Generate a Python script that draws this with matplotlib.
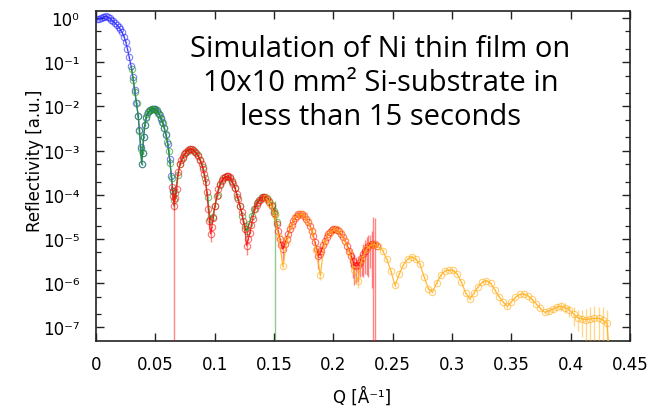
import numpy as np
import matplotlib
matplotlib.use('Agg')
import matplotlib.pyplot as plt
from matplotlib.ticker import LogLocator, FuncFormatter, NullFormatter

plt.rcParams['font.family'] = ['DejaVu Sans']

# ---------------- data ----------------
blue_q = [0.0010, 0.0025, 0.0040, 0.0055, 0.0070, 0.0085, 0.0100, 0.0115, 0.0130, 0.0145,
          0.0160, 0.0175, 0.0190, 0.0205, 0.0220, 0.0235, 0.0250, 0.0265, 0.0280, 0.0295,
          0.0310, 0.0325, 0.0340, 0.0355, 0.0366, 0.0376, 0.0385, 0.0393, 0.0401, 0.0412,
          0.0425, 0.0440, 0.0455, 0.0470, 0.0485, 0.0500, 0.0515, 0.0530, 0.0545, 0.0560,
          0.0575, 0.0590, 0.0605, 0.0620, 0.0635, 0.0648]
blue_r = [0.93, 0.95, 0.99, 1.04, 1.08, 1.09, 1.05, 0.98, 0.91, 0.84,
          0.77, 0.70, 0.62, 0.55, 0.47, 0.38, 0.29, 0.20, 0.13, 0.083,
          0.047, 0.024, 0.012, 6.2e-3, 2.9e-3, 1.2e-3, 5.0e-4, 9.0e-4, 2.0e-3, 3.8e-3,
          5.8e-3, 7.3e-3, 8.2e-3, 8.7e-3, 8.9e-3, 8.7e-3, 8.0e-3, 6.8e-3, 5.5e-3, 4.4e-3,
          3.3e-3, 2.3e-3, 1.4e-3, 6.5e-4, 2.6e-4, 1.2e-4]

green_q = [0.0300, 0.0314, 0.0328, 0.0342, 0.0356, 0.0366, 0.0376, 0.0385, 0.0393, 0.0401,
           0.0410, 0.0420, 0.0432, 0.0445, 0.0458, 0.0471, 0.0484, 0.0497, 0.0510, 0.0523,
           0.0536, 0.0549, 0.0562, 0.0575, 0.0588, 0.0601, 0.0613, 0.0625, 0.0637, 0.0647,
           0.0656, 0.0668, 0.0689, 0.0710, 0.0731, 0.0752, 0.0773, 0.0794, 0.0815, 0.0836,
           0.0857, 0.0878, 0.0899, 0.0920, 0.0941, 0.0962, 0.0983, 0.1003, 0.1024, 0.1045,
           0.1066, 0.1087, 0.1108, 0.1129, 0.1150, 0.1171, 0.1192, 0.1213, 0.1234, 0.1255,
           0.1269, 0.1290, 0.1311, 0.1332, 0.1353, 0.1374, 0.1395, 0.1416, 0.1437, 0.1458,
           0.1479, 0.1500, 0.1508, 0.1522]
green_r = [0.071, 0.040, 0.021, 0.012, 6.0e-3, 2.8e-3, 1.1e-3, 5.0e-4, 8.9e-4, 2.0e-3,
           3.8e-3, 5.6e-3, 6.9e-3, 7.8e-3, 8.3e-3, 8.7e-3, 8.9e-3, 8.7e-3, 8.1e-3, 7.2e-3,
           6.3e-3, 5.2e-3, 4.3e-3, 3.2e-3, 2.4e-3, 1.6e-3, 1.0e-3, 5.2e-4, 2.4e-4, 1.2e-4,
           7.6e-5, 1.1e-4, 2.8e-4, 5.0e-4, 6.9e-4, 8.7e-4, 1.0e-3, 1.07e-3, 1.05e-3, 9.3e-4,
           7.9e-4, 6.0e-4, 4.2e-4, 2.4e-4, 9.0e-5, 2.8e-5, 3.2e-5, 5.6e-5, 1.0e-4, 1.7e-4,
           2.2e-4, 2.5e-4, 2.6e-4, 2.4e-4, 1.9e-4, 1.45e-4, 8.8e-5, 5.6e-5, 3.3e-5, 2.0e-5,
           1.5e-5, 2.2e-5, 3.3e-5, 4.9e-5, 6.4e-5, 7.8e-5, 8.7e-5, 9.1e-5, 8.6e-5, 7.4e-5,
           5.8e-5, 4.2e-5, 3.6e-5, 2.4e-5]

red_q = [0.0640, 0.0648, 0.0657, 0.0668, 0.0680, 0.0693, 0.0708, 0.0720, 0.0730, 0.0745,
         0.0758, 0.0775, 0.0792, 0.0809, 0.0826, 0.0844, 0.0862, 0.0876, 0.0890, 0.0901,
         0.0912, 0.0923, 0.0933, 0.0946, 0.0956, 0.0966, 0.0976, 0.0988, 0.1003, 0.1017,
         0.1031, 0.1045, 0.1059, 0.1073, 0.1087, 0.1101, 0.1115, 0.1129, 0.1143, 0.1157,
         0.1171, 0.1185, 0.1199, 0.1213, 0.1227, 0.1241, 0.1255, 0.1269, 0.1283, 0.1297,
         0.1310, 0.1320, 0.1339, 0.1353, 0.1367, 0.1381, 0.1396, 0.1410, 0.1424, 0.1443,
         0.1460, 0.1480, 0.1500, 0.1522, 0.1536, 0.1550, 0.1562, 0.1573, 0.1590, 0.1606,
         0.1620, 0.1634, 0.1648, 0.1662, 0.1676, 0.1690, 0.1704, 0.1718, 0.1735, 0.1752,
         0.1770, 0.1788, 0.1803, 0.1817, 0.1831, 0.1845, 0.1859, 0.1873, 0.1887, 0.1900,
         0.1915, 0.1929, 0.1944, 0.1958, 0.1972, 0.1985, 0.2000, 0.2014, 0.2031, 0.2048,
         0.2066, 0.2085, 0.2100, 0.2118, 0.2134, 0.2150, 0.2164, 0.2178, 0.2195, 0.2210,
         0.2224, 0.2238, 0.2252, 0.2266, 0.2280, 0.2294, 0.2310, 0.2323, 0.2336, 0.2350,
         0.2365]
red_r = [1.5e-4, 9.5e-5, 5.6e-5, 8.5e-5, 1.35e-4, 3.2e-4, 5.0e-4, 6.2e-4, 7.1e-4, 8.3e-4,
         9.5e-4, 1.05e-3, 1.1e-3, 1.08e-3, 1.0e-3, 8.9e-4, 7.6e-4, 6.2e-4, 5.0e-4, 3.9e-4,
         2.95e-4, 2.0e-4, 1.15e-4, 4.8e-5, 2.6e-5, 1.3e-5, 1.9e-5, 3.0e-5, 5.6e-5, 9.5e-5,
         1.35e-4, 1.74e-4, 2.1e-4, 2.35e-4, 2.5e-4, 2.6e-4, 2.6e-4, 2.5e-4, 2.1e-4, 1.75e-4,
         1.45e-4, 1.05e-4, 7.9e-5, 5.6e-5, 4.0e-5, 2.5e-5, 1.7e-5, 7.1e-6, 1.0e-5, 1.4e-5,
         2.1e-5, 2.8e-5, 4.8e-5, 6.0e-5, 6.9e-5, 7.8e-5, 8.6e-5, 9.1e-5, 9.0e-5, 7.9e-5,
         6.9e-5, 5.6e-5, 3.8e-5, 2.2e-5, 1.5e-5, 1.0e-5, 7.5e-6, 5.9e-6, 7.9e-6, 1.0e-5,
         1.32e-5, 1.7e-5, 2.1e-5, 2.6e-5, 3.0e-5, 3.4e-5, 3.6e-5, 3.7e-5, 3.6e-5, 3.4e-5,
         2.9e-5, 2.4e-5, 2.0e-5, 1.55e-5, 1.17e-5, 8.5e-6, 6.0e-6, 4.2e-6, 4.5e-6, 5.5e-6,
         7.2e-6, 9.1e-6, 1.1e-5, 1.29e-5, 1.45e-5, 1.58e-5, 1.66e-5, 1.7e-5, 1.62e-5, 1.48e-5,
         1.29e-5, 1.1e-5, 8.9e-6, 7.1e-6, 5.5e-6, 4.2e-6, 3.2e-6, 2.6e-6, 2.5e-6, 2.6e-6,
         3.0e-6, 3.7e-6, 4.6e-6, 5.5e-6, 6.3e-6, 6.9e-6, 7.4e-6, 7.8e-6, 7.8e-6, 7.6e-6,
         7.1e-6]

orange_q = [0.1435, 0.1470, 0.1505, 0.1540, 0.1575, 0.1610, 0.1645, 0.1680, 0.1715,
            0.1750, 0.1785, 0.1820, 0.1855, 0.1890, 0.1925, 0.1960, 0.1995, 0.2030, 0.2065,
            0.2100, 0.2135, 0.2170, 0.2205, 0.2240, 0.2275, 0.2310, 0.2345, 0.2380, 0.2415,
            0.2450, 0.2485, 0.2520, 0.2555, 0.2590, 0.2625, 0.2660, 0.2695, 0.2730, 0.2765,
            0.2800, 0.2835, 0.2870, 0.2905, 0.2940, 0.2975, 0.3010, 0.3045, 0.3080, 0.3115,
            0.3150, 0.3185, 0.3220, 0.3255, 0.3290, 0.3325, 0.3360, 0.3395, 0.3430, 0.3465,
            0.3500, 0.3535, 0.3570, 0.3605, 0.3640, 0.3675, 0.3710, 0.3745, 0.3780, 0.3815,
            0.3850, 0.3885, 0.3920, 0.3955, 0.3990, 0.4025, 0.4060, 0.4095, 0.4130, 0.4165,
            0.4200, 0.4235, 0.4270, 0.4305, 0.4340]
orange_r = [8.3e-5, 6.3e-5, 3.5e-5, 1.1e-5, 2.4e-6, 9.5e-6, 2.0e-5, 3.2e-5, 3.7e-5,
            3.5e-5, 2.5e-5, 1.5e-5, 5.6e-6, 1.5e-6, 8.3e-6, 1.3e-5, 1.6e-5, 1.66e-5, 1.35e-5,
            8.9e-6, 5.0e-6, 2.0e-6, 1.12e-6, 3.5e-6, 5.8e-6, 7.2e-6, 7.6e-6, 6.8e-6, 5.5e-6,
            3.5e-6, 1.9e-6, 8.9e-7, 1.6e-6, 2.6e-6, 3.5e-6, 4.0e-6, 3.5e-6, 2.7e-6, 1.4e-6,
            7.6e-7, 6.3e-7, 1.0e-6, 1.5e-6, 1.9e-6, 2.0e-6, 1.95e-6, 1.6e-6, 1.05e-6, 6.0e-7,
            4.4e-7, 6.0e-7, 8.3e-7, 1.05e-6, 1.15e-6, 1.0e-6, 7.1e-7, 5.0e-7, 3.8e-7, 3.0e-7,
            3.8e-7, 4.8e-7, 5.6e-7, 5.75e-7, 5.2e-7, 4.3e-7, 3.4e-7, 2.7e-7, 2.2e-7, 2.35e-7,
            2.6e-7, 2.9e-7, 3.0e-7, 2.8e-7, 2.5e-7, 2.0e-7, 1.66e-7, 1.55e-7, 1.5e-7, 1.55e-7,
            1.6e-7, 1.62e-7, 1.48e-7, 1.26e-7, 1.0e-8]

# relative errors: a default per series plus the points with larger bars
default_rel_err = 0.06
blue_big_q, blue_big_rel = [], []
green_big_q = [0.0656, 0.0962, 0.1269, 0.1479, 0.1500, 0.1508]
green_big_rel = [0.4, 0.25, 0.3, 0.25, 0.35, 1.0]
red_big_q = [0.0657, 0.0956, 0.0966, 0.1269, 0.1573, 0.1873, 0.2118, 0.2150, 0.2164,
             0.2178, 0.2195, 0.2210, 0.2224, 0.2238, 0.2252, 0.2266, 0.2280, 0.2294,
             0.2310, 0.2323, 0.2336, 0.2350]
red_big_rel = [1.0, 0.2, 0.35, 0.4, 0.45, 0.5, 0.3, 0.45, 0.6,
               0.65, 0.6, 0.6, 0.55, 0.6, 0.7, 0.7, 0.75, 0.8,
               0.7, 0.9, 3.0, 3.0]
orange_big_q = [0.1890, 0.2205, 0.3780, 0.3815, 0.3850, 0.3885, 0.3920, 0.3955, 0.3990,
                0.4025, 0.4060, 0.4095, 0.4130, 0.4165, 0.4200, 0.4235, 0.4270, 0.4305]
orange_big_rel = [0.2, 0.3, 0.08, 0.1, 0.12, 0.15, 0.2, 0.25, 0.3,
                  0.45, 0.5, 0.6, 0.7, 0.85, 0.95, 0.8, 1.0, 1.0]

x_ticks = [0, 0.05, 0.1, 0.15, 0.2, 0.25, 0.3, 0.35, 0.4, 0.45]
y_tick_labels = {0: '10\u2070', -1: '10\u207b\u00b9', -2: '10\u207b\u00b2', -3: '10\u207b\u00b3',
                 -4: '10\u207b\u2074', -5: '10\u207b\u2075', -6: '10\u207b\u2076',
                 -7: '10\u207b\u2077'}
title_lines = ['Simulation of Ni thin film on',
               '10x10 mm\u00b2 Si-substrate in',
               'less than 15 seconds']

# ---------------- figure ----------------
W, H = 654, 410
fig = plt.figure(figsize=(W / 100, H / 100), dpi=100)
ax = fig.add_axes([96 / W, 1 - 341.7 / H, (630 - 96) / W, (341.7 - 11.7) / H])


def draw(q, r, big_q, big_rel, color, z):
    q = np.asarray(q, float)
    r = np.asarray(r, float)
    rel = np.full(len(q), default_rel_err)
    for bq, br in zip(big_q, big_rel):
        rel[np.argmin(np.abs(q - bq))] = br
    s = rel * r
    lower = np.minimum(s, r * 0.99999)
    ax.errorbar(q, r, yerr=[lower, s], fmt='none', ecolor=color, elinewidth=1.0,
                alpha=0.5, zorder=z)
    ax.plot(q, r, '-', color=color, lw=0.9, alpha=0.85, zorder=z + 0.1)
    ax.plot(q, r, 'o', mfc='none', mec=color, ms=4.6, mew=0.8, alpha=0.6,
            zorder=z + 0.2)


draw(blue_q, blue_r, blue_big_q, blue_big_rel, '#2a2aff', 2)
draw(green_q, green_r, green_big_q, green_big_rel, '#1f9a1f', 3)
draw(red_q, red_r, red_big_q, red_big_rel, '#ff1010', 4)
draw(orange_q, orange_r, orange_big_q, orange_big_rel, '#ffae1a', 5)

ax.set_yscale('log')
ax.set_xlim(0, 0.45)
ax.set_ylim(10 ** -7.30, 10 ** 0.165)

ax.set_xticks(x_ticks)
ax.xaxis.set_major_formatter(FuncFormatter(lambda v, p: ('%g' % round(v, 3))))
ax.yaxis.set_major_locator(LogLocator(base=10, numticks=20))
ax.yaxis.set_minor_locator(LogLocator(base=10, subs=[2, 5], numticks=20))
ax.yaxis.set_minor_formatter(NullFormatter())
ax.yaxis.set_major_formatter(FuncFormatter(
    lambda v, p: y_tick_labels.get(int(round(np.log10(v))), '')))

ax.tick_params(which='both', direction='in', top=True, right=True, colors='#222222',
               labelcolor='black')
ax.tick_params(which='major', length=6, width=1.0, labelsize=12)
ax.tick_params(axis='x', which='major', pad=10)
ax.tick_params(axis='y', which='major', pad=12)
ax.tick_params(which='minor', length=3.5, width=0.9)
for sp in ax.spines.values():
    sp.set_linewidth(1.2)
    sp.set_color('#222222')

fig.text(362 / W, 1 - 403 / H, 'Q [Å\u207b\u00b9]', fontsize=12, ha='center', va='baseline')
fig.text(35 / W, 1 - 161 / H, 'Reflectivity [a.u.]', fontsize=12, ha='center',
         va='center', rotation=90)

for txt, base in zip(title_lines, [57, 91, 125]):
    fig.text(380.5 / W, 1 - base / H, txt, ha='center', va='baseline', fontsize=21,
             family=['Open Sans', 'DejaVu Sans'], color='black')

fig.savefig('out.png', dpi=100)
